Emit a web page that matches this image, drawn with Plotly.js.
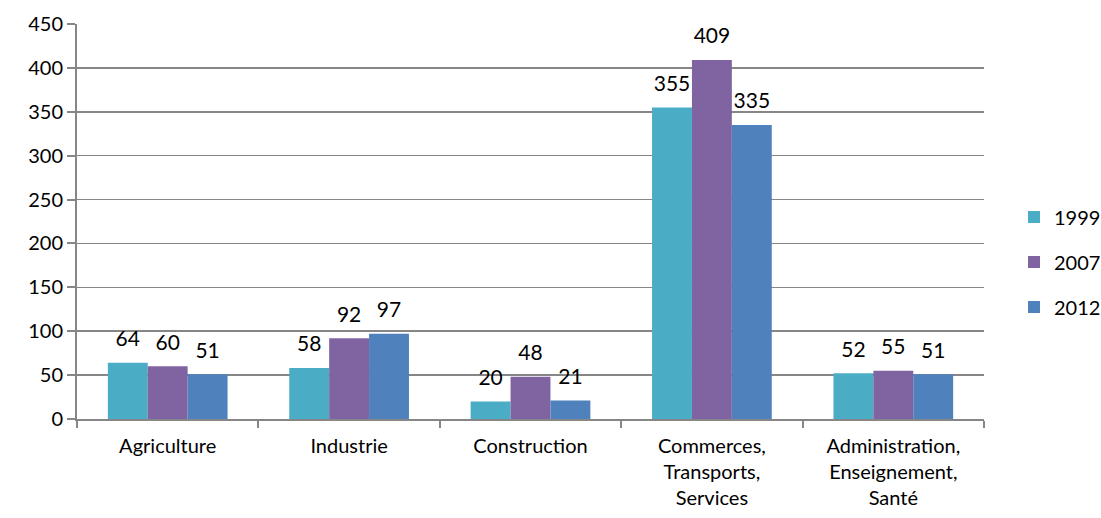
<!DOCTYPE html>
<html><head><meta charset="utf-8">
<script src="https://cdn.plot.ly/plotly-3.0.1.min.js"></script>
<style>html,body{margin:0;padding:0;background:#fff}</style>
</head><body>
<div id="chart" style="width:1101px;height:518px"></div>
<script>
const categories = ["Agriculture","Industrie","Construction","Commerces,<br>Transports,<br>Services","Administration,<br>Enseignement,<br>Santé"];
const years = ["1999","2007","2012"];
const v1999 = [64,58,20,355,52];
const v2007 = [60,92,48,409,55];
const v2012 = [51,97,21,335,51];
const colors = ["#4BACC6","#8064A2","#4F81BD"];
const FONT = "Lato, 'Open Sans', sans-serif";
const series = [v1999, v2007, v2012];
const data = series.map((vals,i)=>({
  type:"bar", x:categories, y:vals, name:years[i], legendgroup:"g"+i,
  marker:{color:colors[i]},
  text:vals.map(v=>"<span style='font-size:21px'>"+v+"</span><br> "), textposition:"outside", cliponaxis:false,
  constraintext:"none",
  textfont:{family:FONT,size:9,color:"#000"}
}));
const layout = {
  width:1101, height:518,
  margin:{l:77,r:117,t:24,b:99},
  paper_bgcolor:"#fff", plot_bgcolor:"#fff",
  barmode:"group", bargap:0.34, bargroupgap:0,
  font:{family:FONT,color:"#000"},
  xaxis:{type:"category", tickson:"boundaries", ticks:"outside", ticklen:7, tickcolor:"#868686", tickwidth:2,
    showline:true, linecolor:"#868686", linewidth:2, showgrid:false, ticklabelstandoff:8,
    tickfont:{family:FONT,size:20,color:"#000"}},
  yaxis:{range:[0,450], dtick:50, tick0:0, ticks:"outside", ticklen:8, tickcolor:"#868686", tickwidth:2,
    showline:true, linecolor:"#868686", linewidth:2, gridcolor:"#868686", gridwidth:1.5,
    zeroline:false, tickfont:{family:FONT,size:20,color:"#000"}},
  legend:{xref:"container", yref:"container", x:0.921, y:0.494, xanchor:"left", yanchor:"middle",
    font:{family:FONT,size:20,color:"#000"}, tracegroupgap:16, traceorder:"grouped", itemwidth:30},
  showlegend:true
};
Plotly.newPlot("chart", data, layout, {displayModeBar:false, staticPlot:true});
</script>
</body></html>
